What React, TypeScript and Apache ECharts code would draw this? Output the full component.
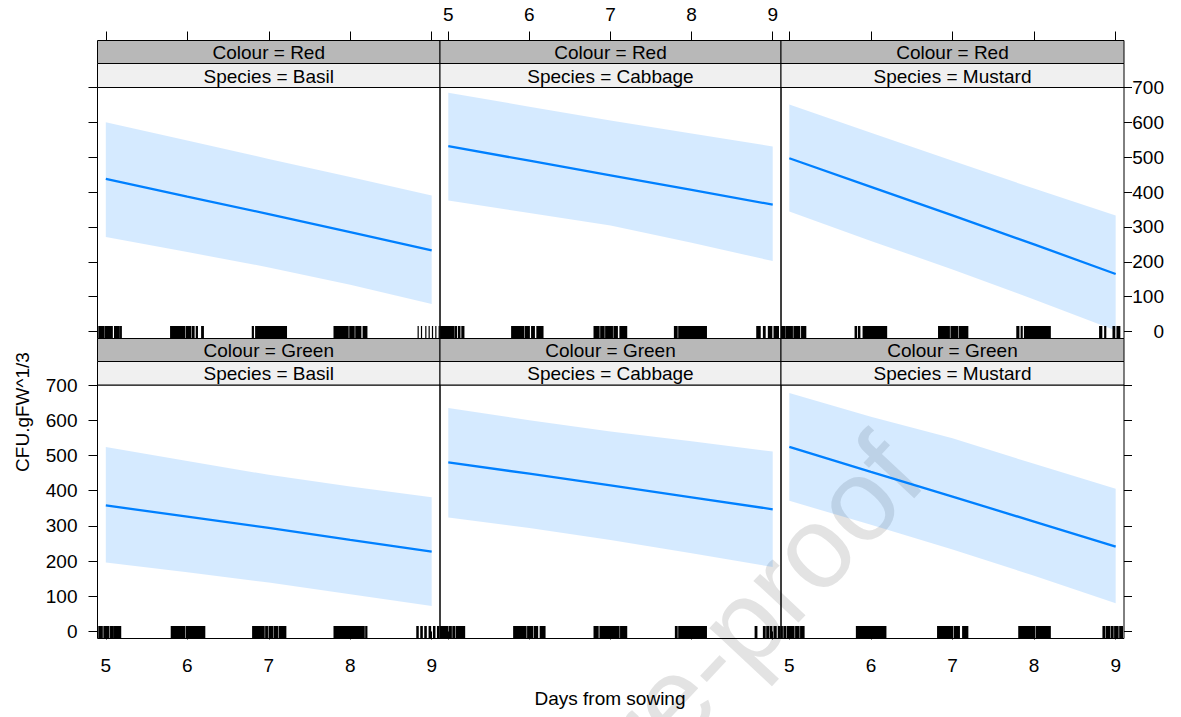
import { useEffect, useRef } from "react";
import * as echarts from "echarts";

// ---------- data ----------
const days = [5, 6, 7, 8, 9];
const xTicks = [5, 6, 7, 8, 9];
const yTicks = [0, 100, 200, 300, 400, 500, 600, 700];
const colourLevels = ["Red", "Green"];
const speciesLevels = ["Basil", "Cabbage", "Mustard"];

// Colour = Red
const redBasilFit = [438, 387, 337, 285, 233];
const redBasilUpper = [600, 548, 495, 443, 390];
const redBasilLower = [271, 228, 184, 134, 79];
const redCabbageFit = [532, 490, 448, 406, 364];
const redCabbageUpper = [685, 645, 605, 568, 531];
const redCabbageLower = [376, 340, 304, 255, 202];
const redMustardFit = [497, 415, 333, 250, 165];
const redMustardUpper = [651, 570, 490, 410, 333];
const redMustardLower = [344, 260, 178, 92, 3];
// Colour = Green
const greenBasilFit = [358, 326, 294, 260, 227];
const greenBasilUpper = [524, 484, 445, 412, 381];
const greenBasilLower = [196, 168, 139, 106, 72];
const greenCabbageFit = [480, 448, 415, 381, 347];
const greenCabbageUpper = [635, 600, 568, 540, 511];
const greenCabbageLower = [324, 294, 260, 222, 183];
const greenMustardFit = [524, 453, 383, 312, 241];
const greenMustardUpper = [677, 610, 549, 476, 405];
const greenMustardLower = [371, 303, 233, 158, 80];

// rug of observed sowing days, as [from, to] runs of ticks
const redBasilRug = [
  [4.915, 4.977], [4.993, 5.079], [5.108, 5.165], [5.182, 5.19],
  [5.796, 5.968], [5.988, 6.042], [6.062, 6.083], [6.111, 6.124], [6.177, 6.197],
  [6.799, 6.811], [6.84, 7.217],
  [7.802, 7.974], [7.995, 8.048], [8.069, 8.13], [8.159, 8.204],
  [8.834, 8.834], [8.875, 8.875], [8.928, 8.928], [8.969, 8.969], [9.01, 9.01], [9.051, 9.051], [9.092, 9.092],
];
const redCabbageRug = [
  [4.906, 5.07], [5.086, 5.102], [5.127, 5.143], [5.168, 5.192],
  [5.782, 5.93], [5.95, 5.999], [6.028, 6.061], [6.093, 6.167],
  [6.798, 6.859], [6.88, 6.921], [6.941, 7.023], [7.043, 7.084], [7.117, 7.199],
  [7.789, 7.821], [7.842, 8.182],
  [8.804, 8.845], [8.886, 8.906], [8.947, 8.988], [9.017, 9.07],
];
const redMustardRug = [
  [4.9, 4.947], [4.963, 5.037], [5.057, 5.127], [5.151, 5.201],
  [5.807, 5.823], [5.848, 5.864], [5.905, 6.192],
  [6.83, 6.961], [6.982, 7.064], [7.084, 7.187],
  [7.789, 7.813], [7.842, 7.854], [7.883, 8.198],
  [8.804, 8.829], [8.866, 8.878], [8.968, 8.988], [9.017, 9.05],
];
const greenBasilRug = [
  [4.915, 4.956], [4.977, 5.038], [5.059, 5.092], [5.108, 5.182],
  [5.804, 5.968], [5.988, 6.214],
  [6.803, 6.943], [6.963, 6.983], [7.004, 7.045], [7.065, 7.106], [7.127, 7.209],
  [7.802, 8.171], [8.191, 8.204],
  [8.818, 8.834], [8.867, 8.884], [8.916, 8.933], [8.969, 8.986], [9.023, 9.039], [9.072, 9.088],
];
const greenCabbageRug = [
  [4.9, 4.996], [5.016, 5.037], [5.057, 5.078], [5.098, 5.201],
  [5.807, 5.958], [5.979, 6.04], [6.061, 6.101], [6.134, 6.192],
  [6.798, 6.847], [6.871, 7.105], [7.125, 7.199],
  [7.801, 7.821], [7.842, 8.182],
  [8.784, 8.804], [8.886, 8.906], [8.927, 8.947], [8.968, 8.988], [9.017, 9.042], [9.07, 9.091],
];
const greenMustardRug = [
  [4.9, 4.914], [4.934, 4.955], [4.975, 5.057], [5.078, 5.119], [5.139, 5.18],
  [5.823, 6.183],
  [6.818, 7.002], [7.023, 7.084], [7.125, 7.187],
  [7.813, 8.006], [8.026, 8.198],
  [8.845, 8.866], [8.886, 8.927], [8.947, 8.968], [8.988, 9.029], [9.05, 9.083],
];

const panelFits = [redBasilFit, redCabbageFit, redMustardFit, greenBasilFit, greenCabbageFit, greenMustardFit];
const panelUppers = [redBasilUpper, redCabbageUpper, redMustardUpper, greenBasilUpper, greenCabbageUpper, greenMustardUpper];
const panelLowers = [redBasilLower, redCabbageLower, redMustardLower, greenBasilLower, greenCabbageLower, greenMustardLower];
const panelRugs = [redBasilRug, redCabbageRug, redMustardRug, greenBasilRug, greenCabbageRug, greenMustardRug];

// ---------- styling / layout ----------
const FONT = "'Liberation Sans', Arial, Helvetica, sans-serif";
const FS = 19;
const X_MIN = 4.898;
const X_MAX = 9.102;
const Y_MIN = -20;
const Y_MAX = 700;
const LINE = "#0080ff";
const BAND = "rgba(0,128,255,0.165)";
const STRIP_DARK = "#b8b8b8";
const STRIP_LIGHT = "#f0f0f0";

const COL_L = [97.5, 440, 781];
const COL_R = [440, 781, 1124];
const STRIP_TOP = [40.5, 338.5];
const STRIP_MID = [63.5, 361.5];
const PLOT_TOP = [87.5, 385];
const PLOT_BOTTOM = [338.5, 638.5];
const RUG_H = 12.5;
const TOP_TICK_LEN = 9;

export default function App() {
  const ref = useRef<HTMLDivElement>(null);

  useEffect(() => {
    if (!ref.current) return;
    const chart = echarts.init(ref.current, null, { renderer: "svg" });

    const grids: any[] = [];
    const xAxes: any[] = [];
    const yAxes: any[] = [];
    const series: any[] = [];
    const graphics: any[] = [];

    // watermark (behind everything)
    graphics.push({
      type: "text",
      x: 900,
      y: 455,
      rotation: (47 * Math.PI) / 180,
      z: -10,
      silent: true,
      style: {
        text: "Journal Pre-proof",
        font: `116px ${FONT}`,
        fill: "#e3e3e3",
        align: "right",
        verticalAlign: "middle",
      },
    });

    const tickStyle = { color: "#000", width: 1 };

    for (let r = 0; r < 2; r++) {
      for (let c = 0; c < 3; c++) {
        const p = r * 3 + c;
        const w = COL_R[c] - COL_L[c];
        grids.push({
          left: COL_L[c],
          top: PLOT_TOP[r],
          width: w,
          height: PLOT_BOTTOM[r] - PLOT_TOP[r],
          show: true,
          borderColor: "#000",
          borderWidth: 1,
          backgroundColor: "transparent",
          containLabel: false,
          outerBoundsMode: "none",
        });

        const xLabelled = r === 1 && c !== 1;
        xAxes.push({
          gridIndex: p,
          type: "value",
          min: X_MIN,
          max: X_MAX,
          position: "bottom",
          axisLine: { show: false },
          splitLine: { show: false },
          axisTick: {
            show: r === 1,
            inside: false,
            length: 8,
            customValues: xTicks,
            lineStyle: tickStyle,
          },
          axisLabel: {
            show: xLabelled,
            customValues: xTicks,
            margin: 17,
            fontSize: FS,
            fontFamily: FONT,
            color: "#000",
          },
        });

        const yTicksShown = c !== 1;
        const yLabelled = (r === 1 && c === 0) || (r === 0 && c === 2);
        yAxes.push({
          gridIndex: p,
          type: "value",
          min: Y_MIN,
          max: Y_MAX,
          position: c === 2 ? "right" : "left",
          axisLine: { show: false },
          splitLine: { show: false },
          axisTick: {
            show: yTicksShown,
            inside: false,
            length: c === 2 ? 8 : 9,
            customValues: yTicks,
            lineStyle: tickStyle,
          },
          axisLabel: {
            show: yLabelled,
            customValues: yTicks,
            margin: c === 2 ? 40 : 20,
            align: "right",
            fontSize: FS,
            fontFamily: FONT,
            color: "#000",
          },
        });

        const fit = panelFits[p];
        const upper = panelUppers[p];
        const lower = panelLowers[p];

        series.push({
          type: "custom",
          xAxisIndex: p,
          yAxisIndex: p,
          clip: true,
          silent: true,
          z: 2,
          data: [[days[0], fit[0]]],
          renderItem: (_params: any, api: any) => {
            const top = days.map((d, i) => api.coord([d, upper[i]]));
            const bot = days.map((d, i) => api.coord([d, lower[i]])).reverse();
            return {
              type: "polygon",
              shape: { points: top.concat(bot) },
              style: { fill: BAND },
            };
          },
        });

        series.push({
          type: "line",
          xAxisIndex: p,
          yAxisIndex: p,
          silent: true,
          z: 3,
          showSymbol: false,
          data: days.map((d, i) => [d, fit[i]]),
          lineStyle: { color: LINE, width: 2.3 },
          itemStyle: { color: LINE },
        });

        series.push({
          type: "custom",
          xAxisIndex: p,
          yAxisIndex: p,
          clip: true,
          silent: true,
          z: 4,
          data: panelRugs[p],
          renderItem: (_params: any, api: any) => {
            const a = api.coord([api.value(0), Y_MIN]);
            const b = api.coord([api.value(1), Y_MIN]);
            return {
              type: "rect",
              shape: { x: a[0] - 0.6, y: a[1] - RUG_H, width: b[0] - a[0] + 1.2, height: RUG_H },
              style: { fill: "#000" },
            };
          },
        });

        // strips
        graphics.push({
          type: "rect",
          z: 5,
          shape: { x: COL_L[c], y: STRIP_TOP[r], width: w, height: STRIP_MID[r] - STRIP_TOP[r] },
          style: { fill: STRIP_DARK, stroke: "#000", lineWidth: 1 },
        });
        graphics.push({
          type: "rect",
          z: 5,
          shape: { x: COL_L[c], y: STRIP_MID[r], width: w, height: PLOT_TOP[r] - STRIP_MID[r] },
          style: { fill: STRIP_LIGHT, stroke: "#000", lineWidth: 1 },
        });
        graphics.push({
          type: "text",
          z: 6,
          x: COL_L[c] + w / 2,
          y: (STRIP_TOP[r] + STRIP_MID[r]) / 2 + 0.5,
          style: {
            text: `Colour = ${colourLevels[r]}`,
            font: `${FS}px ${FONT}`,
            fill: "#000",
            align: "center",
            verticalAlign: "middle",
          },
        });
        graphics.push({
          type: "text",
          z: 6,
          x: COL_L[c] + w / 2,
          y: (STRIP_MID[r] + PLOT_TOP[r]) / 2 + 0.5,
          style: {
            text: `Species = ${speciesLevels[c]}`,
            font: `${FS}px ${FONT}`,
            fill: "#000",
            align: "center",
            verticalAlign: "middle",
          },
        });
      }
    }

    // thin grids just above the strips, carrying the top axis (ticks + labels)
    for (let c = 0; c < 3; c++) {
      const idx = grids.length;
      grids.push({
        left: COL_L[c],
        top: STRIP_TOP[0] - TOP_TICK_LEN,
        width: COL_R[c] - COL_L[c],
        height: TOP_TICK_LEN,
        show: false,
        containLabel: false,
        outerBoundsMode: "none",
      });
      // ticks: bottom axis of the thin grid, drawn inside (upwards)
      xAxes.push({
        gridIndex: idx,
        type: "value",
        min: X_MIN,
        max: X_MAX,
        position: "bottom",
        axisLine: { show: false },
        splitLine: { show: false },
        axisTick: {
          show: true,
          inside: true,
          length: TOP_TICK_LEN,
          customValues: xTicks,
          lineStyle: tickStyle,
        },
        axisLabel: { show: false },
      });
      // labels: top axis of the thin grid
      xAxes.push({
        gridIndex: idx,
        type: "value",
        min: X_MIN,
        max: X_MAX,
        position: "top",
        axisLine: { show: false },
        splitLine: { show: false },
        axisTick: { show: false },
        axisLabel: {
          show: c === 1,
          customValues: xTicks,
          margin: 8,
          fontSize: FS,
          fontFamily: FONT,
          color: "#000",
        },
      });
      yAxes.push({
        gridIndex: idx,
        type: "value",
        min: 0,
        max: 1,
        show: false,
      });
    }

    // axis titles
    graphics.push({
      type: "text",
      z: 6,
      x: 610,
      y: 698,
      style: {
        text: "Days from sowing",
        font: `${FS}px ${FONT}`,
        fill: "#000",
        align: "center",
        verticalAlign: "middle",
      },
    });
    graphics.push({
      type: "text",
      z: 6,
      x: 22,
      y: 412,
      rotation: Math.PI / 2,
      style: {
        text: "CFU.gFW^1/3",
        font: `${FS}px ${FONT}`,
        fill: "#000",
        align: "center",
        verticalAlign: "middle",
      },
    });

    chart.setOption({
      animation: false,
      backgroundColor: "#fff",
      grid: grids,
      xAxis: xAxes,
      yAxis: yAxes,
      series,
      graphic: graphics,
    });

    return () => chart.dispose();
  }, []);

  return (
    <div
      ref={ref}
      style={{ position: "absolute", left: 0, top: 0, width: 1181, height: 717 }}
    />
  );
}
